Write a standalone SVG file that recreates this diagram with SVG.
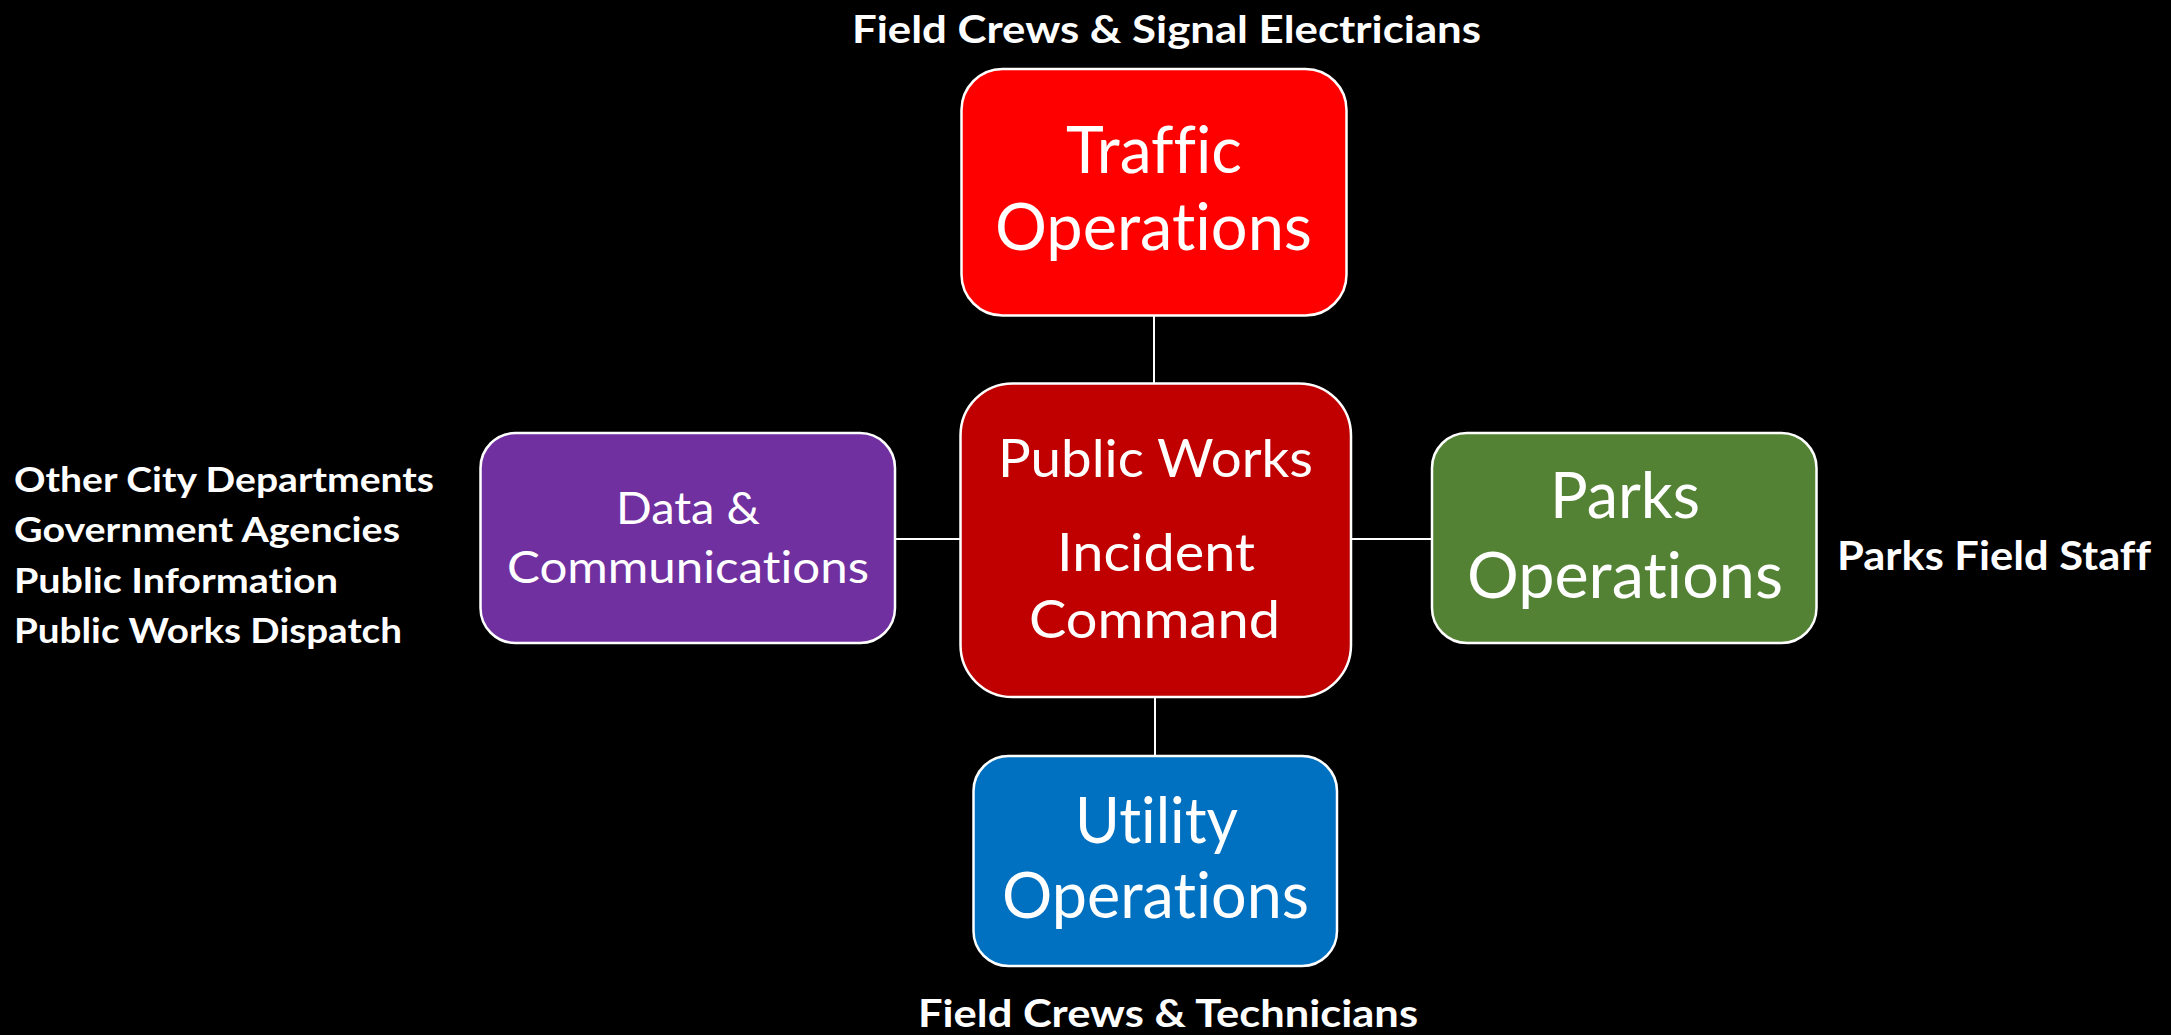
<svg xmlns="http://www.w3.org/2000/svg" width="2171" height="1035" viewBox="0 0 2171 1035">
<style>
.box{stroke:#FFFFFF;stroke-width:2.5}
.t{font-family:Lato,"Open Sans","Liberation Sans",sans-serif;fill:#FFFFFF;font-variant-ligatures:none}
.lbl{font-family:Lato,"Open Sans","Liberation Sans",sans-serif;font-weight:bold;fill:#FFFFFF;font-variant-ligatures:none}
.con{stroke:#FFFFFF;stroke-width:2;fill:none}
</style>
<rect width="2171" height="1035" fill="#000000"/>
<g id="connectors">
<line class="con" x1="1154" y1="316" x2="1154" y2="384"/>
<line class="con" x1="1155" y1="697" x2="1155" y2="756"/>
<line class="con" x1="895" y1="539" x2="961" y2="539"/>
<line class="con" x1="1351" y1="539" x2="1432" y2="539"/>
</g>
<g id="traffic">
<rect class="box" x="961.5" y="69" width="385" height="246.5" rx="41" fill="#FF0000"/>
<text class="t" x="1066" y="173" font-size="65" textLength="176" lengthAdjust="spacingAndGlyphs">Traffic</text>
<text class="t" x="995" y="250" font-size="65" textLength="317" lengthAdjust="spacingAndGlyphs">Operations</text>
</g>
<g id="incident-command">
<rect class="box" x="960.5" y="383.5" width="390.5" height="313.5" rx="52" fill="#C00000"/>
<text class="t" x="998" y="477" font-size="53" textLength="315" lengthAdjust="spacingAndGlyphs">Public Works</text>
<text class="t" x="1057" y="571" font-size="53" textLength="198" lengthAdjust="spacingAndGlyphs">Incident</text>
<text class="t" x="1029" y="638" font-size="53" textLength="251" lengthAdjust="spacingAndGlyphs">Command</text>
</g>
<g id="data-communications">
<rect class="box" x="480.5" y="433" width="414.5" height="210" rx="35" fill="#7030A0"/>
<text class="t" x="616" y="524" font-size="45" textLength="144" lengthAdjust="spacingAndGlyphs">Data &amp;</text>
<text class="t" x="507" y="583" font-size="45" textLength="362" lengthAdjust="spacingAndGlyphs">Communications</text>
</g>
<g id="parks">
<rect class="box" x="1432" y="433" width="384.5" height="210" rx="35" fill="#548235"/>
<text class="t" x="1550" y="518" font-size="63" textLength="150" lengthAdjust="spacingAndGlyphs">Parks</text>
<text class="t" x="1467" y="598" font-size="63" textLength="316" lengthAdjust="spacingAndGlyphs">Operations</text>
</g>
<g id="utility">
<rect class="box" x="973.5" y="756" width="363.5" height="210" rx="35" fill="#0070C0"/>
<text class="t" x="1075" y="843" font-size="64" textLength="163" lengthAdjust="spacingAndGlyphs">Utility</text>
<text class="t" x="1002" y="918" font-size="64" textLength="307" lengthAdjust="spacingAndGlyphs">Operations</text>
</g>
<g id="labels">
<text class="lbl" x="852" y="43" font-size="38" textLength="629" lengthAdjust="spacingAndGlyphs">Field Crews &amp; Signal Electricians</text>
<text class="lbl" x="918" y="1027" font-size="38" textLength="500" lengthAdjust="spacingAndGlyphs">Field Crews &amp; Technicians</text>
<text class="lbl" x="1837" y="570" font-size="40" textLength="314" lengthAdjust="spacingAndGlyphs">Parks Field Staff</text>
<text class="lbl" x="14" y="492" font-size="34" textLength="420" lengthAdjust="spacingAndGlyphs">Other City Departments</text>
<text class="lbl" x="14" y="542" font-size="34" textLength="386" lengthAdjust="spacingAndGlyphs">Government Agencies</text>
<text class="lbl" x="14" y="593" font-size="34" textLength="324" lengthAdjust="spacingAndGlyphs">Public Information</text>
<text class="lbl" x="14" y="643" font-size="34" textLength="388" lengthAdjust="spacingAndGlyphs">Public Works Dispatch</text>
</g>
</svg>
